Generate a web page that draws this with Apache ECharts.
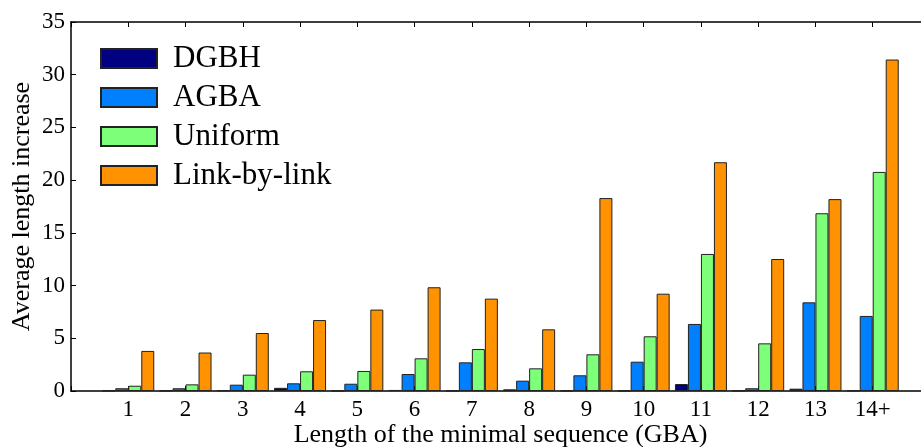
<!DOCTYPE html>
<html>
<head>
<meta charset="utf-8">
<script src="https://cdn.jsdelivr.net/npm/echarts@6/dist/echarts.min.js"></script>
<style>
  html, body { margin: 0; padding: 0; background: #fff; }
  #chart { width: 921px; height: 447px; }
</style>
</head>
<body>
<div id="chart"></div>
<script>
// 序列长度分类
const categories = ['1', '2', '3', '4', '5', '6', '7', '8', '9', '10', '11', '12', '13', '14+'];
const seriesNames = ['DGBH', 'AGBA', 'Uniform', 'Link-by-link'];
const dgbh = [0.03, 0.03, 0.07, 0.3, 0.02, 0.1, 0.03, 0.16, 0.03, 0.03, 0.66, 0.03, 0.22, 0.05];
const agba = [0.26, 0.26, 0.6, 0.73, 0.69, 1.61, 2.72, 0.98, 1.49, 2.78, 6.36, 0.26, 8.41, 7.12];
const uniform = [0.5, 0.63, 1.55, 1.87, 1.9, 3.1, 3.98, 2.15, 3.48, 5.19, 13.0, 4.52, 16.86, 20.78];
const linkByLink = [3.8, 3.65, 5.5, 6.73, 7.72, 9.84, 8.76, 5.85, 18.3, 9.23, 21.7, 12.52, 18.2, 31.44];
const yTicks = [0, 5, 10, 15, 20, 25, 30, 35];

const colors = ['#000080', '#0080ff', '#7dff7a', '#ff9200'];
const font = 'Liberation Serif';

// 两端留空，与原图的 xlim 对齐
const axisData = [''].concat(categories, ['']);
function pad(arr) { return ['-'].concat(arr, ['-']); }

const chart = echarts.init(document.getElementById('chart'));

const allData = [dgbh, agba, uniform, linkByLink];
const series = allData.map(function (d, i) {
  return {
    name: seriesNames[i],
    type: 'bar',
    data: pad(d),
    barWidth: 13,
    barGap: '0%',
    itemStyle: {
      color: colors[i],
      borderColor: '#222',
      borderWidth: 1
    }
  };
});

const option = {
  backgroundColor: '#fff',
  animation: false,
  color: colors,
  grid: { left: 71, top: 22, width: 859, height: 369, outerBoundsMode: 'none', containLabel: false },
  legend: {
    orient: 'vertical',
    left: 95,
    top: 38,
    itemWidth: 56,
    itemHeight: 19,
    itemGap: 8,
    icon: 'rect',
    data: seriesNames,
    textStyle: {
      fontFamily: font,
      fontSize: 31,
      color: '#000',
      padding: [0, 0, 0, 11]
    }
  },
  xAxis: [
    {
      type: 'category',
      data: axisData,
      boundaryGap: false,
      name: 'Length of the minimal sequence (GBA)',
      nameLocation: 'middle',
      nameGap: 31,
      nameMoveOverlap: false,
      nameTextStyle: { fontFamily: font, fontSize: 26, color: '#000' },
      axisLine: { lineStyle: { color: '#000', width: 1.5 } },
      axisTick: { inside: true, length: 5, lineStyle: { color: '#000' } },
      axisLabel: { fontFamily: font, fontSize: 23, color: '#000', margin: 7, interval: 0 },
      splitLine: { show: false }
    },
    {
      type: 'category',
      position: 'top',
      data: axisData,
      boundaryGap: false,
      axisLine: { lineStyle: { color: '#000', width: 1.5 } },
      axisTick: { inside: true, length: 5, lineStyle: { color: '#000' } },
      axisLabel: { show: false },
      splitLine: { show: false }
    }
  ],
  yAxis: {
    type: 'value',
    min: 0,
    max: 35,
    interval: 5,
    name: 'Average length increase',
    nameLocation: 'middle',
    nameGap: 36,
    nameMoveOverlap: false,
    nameTextStyle: { fontFamily: font, fontSize: 26, color: '#000' },
    axisLine: { show: true, lineStyle: { color: '#000', width: 1.5 } },
    axisTick: { show: true, inside: true, length: 5, lineStyle: { color: '#000' } },
    axisLabel: { fontFamily: font, fontSize: 23, color: '#000', margin: 6 },
    splitLine: { show: false }
  },
  series: series
};

chart.setOption(option);
</script>
</body>
</html>
